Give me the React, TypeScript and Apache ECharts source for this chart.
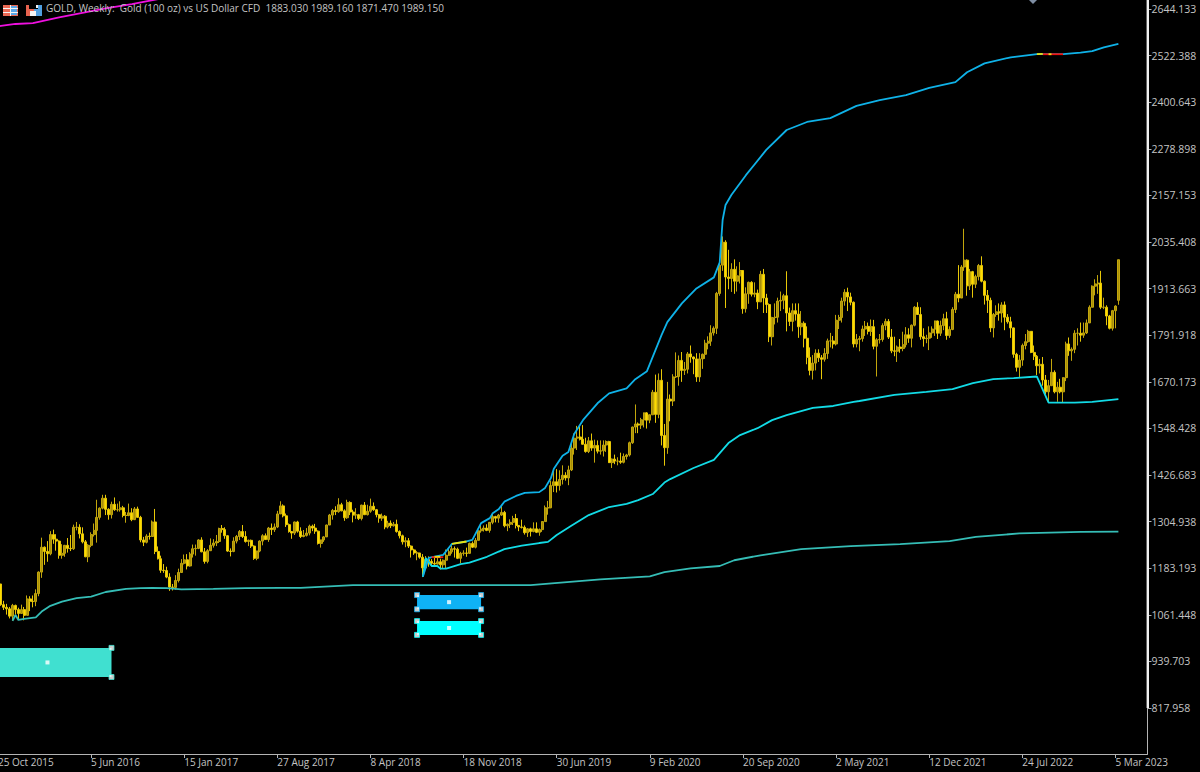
import React, { useEffect, useRef } from 'react';
import * as echarts from 'echarts';

const FONT = '"Open Sans", sans-serif';
const HEADER = 'GOLD, Weekly:  Gold (100 oz) vs US Dollar CFD  1883.030 1989.160 1871.470 1989.150';
const TEXT_COLOR = '#c4c4c4';

// the first label hangs off the left edge, so the canvas starts a bit before the page
const BLEED = 10;

// first week on the chart, one bar per week from there
const FIRST_WEEK = Date.UTC(2015, 9, 25);
const WEEK_COUNT = 396;
const MONTHS = ['Jan', 'Feb', 'Mar', 'Apr', 'May', 'Jun', 'Jul', 'Aug', 'Sep', 'Oct', 'Nov', 'Dec'];

const weeks: string[] = [];
for (let i = 0; i < WEEK_COUNT; i++) {
  const d = new Date(FIRST_WEEK + i * 7 * 86400000);
  weeks.push(`${d.getUTCDate()} ${MONTHS[d.getUTCMonth()]} ${d.getUTCFullYear()}`);
}

const priceTicks = [
  817.958, 939.703, 1061.448, 1183.193, 1304.938, 1426.683, 1548.428, 1670.173,
  1791.918, 1913.663, 2035.408, 2157.153, 2278.898, 2400.643, 2522.388, 2644.133,
];

const opens = [
  1163,1142,1088,1081,1077,1058,1086,1075,1065,1075,
  1060,1103,1097,1096,1117,1173,1238,1227,1221,1271,1259,1254,1217,1222,1243,1235,1234,1290,1290,1273,1252,1213,1243,1271,1282,1316,1340,1366,1337,1323,1350,1336,1336,1341,1321,1321,1328,1310,1338,1316,1257,1251,1267,1266,1304,1227,1208,1178,1177,1160,1134,1133,
  1151,1172,1196,1205,1189,1220,1234,1235,1257,1226,1201,1229,1243,1249,1253,1287,1284,1268,1228,1227,1254,1266,1279,1266,1253,1256,1241,1209,1228,1254,1268,1258,1288,1284,1291,1325,1346,1320,1297,1279,1275,1304,1280,1266,1269,1275,1293,1288,1280,1248,1257,1265,
  1296,1322,1334,1331,1349,1333,1315,1355,1330,1322,1323,1313,1348,1323,1332,1345,1336,1323,1314,1319,1291,1301,1294,1298,1279,1268,1252,1255,1241,1231,1223,1223,1212,1184,1206,1201,1196,1194,1200,1192,1204,1217,1226,1234,1233,1209,1222,1223,1222,1248,1238,1256,1281,
  1285,1288,1282,1303,1318,1314,1322,1329,1294,1298,1303,1313,1295,1291,1290,1276,1286,1279,1286,1277,1284,1305,1341,1341,1399,1409,1399,1415,1426,1419,1440,1497,1523,1526,1520,1507,1488,1516,1497,1504,1489,1490,1505,1514,1459,1468,1463,1463,1460,1475,1479,1511,
  1552,1560,1557,1571,1589,1570,1584,1643,1585,1674,1530,1498,1625,1620,1683,1684,1726,1700,1703,1743,1735,1730,1683,1730,1742,1771,1776,1798,1810,1901,1975,2035,1944,1940,1964,1933,1947,1961,1861,1900,1930,1899,1902,1879,1951,1889,1872,1788,1838,1839,1881,1883,
  1895,1850,1828,1856,1847,1814,1823,1784,1734,1700,1719,1745,1733,1729,1744,1777,1777,1769,1831,1838,1881,1904,1892,1878,1769,1781,1783,1808,1815,1802,1814,1763,1780,1781,1817,1828,1787,1751,1750,1761,1757,1767,1793,1784,1818,1865,1846,1788,1783,1784,1798,1808,
  1829,1797,1817,1835,1791,1807,1859,1899,1889,1970,1988,1921,1958,1925,1945,1974,1933,1896,1883,1811,1846,1853,1850,1871,1839,1827,1811,1742,1708,1727,1765,1775,1802,1747,1737,1712,1716,1675,1644,1660,1695,1644,1656,1644,1681,1769,1751,1755,1797,1797,1792,1798,
  1824,1865,1920,1926,1928,1865,1865,1842,1810,1856,1883.03,
];

const closes = [
  1142,1088,1081,1077,1058,1086,1075,1065,1075,1060,
  1103,1097,1096,1117,1173,1238,1227,1221,1271,1259,1254,1217,1222,1243,1235,1234,1290,1290,1273,1252,1213,1243,1271,1282,1316,1340,1366,1337,1323,1350,1336,1336,1341,1321,1321,1328,1310,1338,1316,1257,1251,1267,1266,1304,1227,1208,1178,1177,1160,1134,1133,1151,
  1172,1196,1205,1189,1220,1234,1235,1257,1226,1201,1229,1243,1249,1253,1287,1284,1268,1228,1227,1254,1266,1279,1266,1253,1256,1241,1209,1228,1254,1268,1258,1288,1284,1291,1325,1346,1320,1297,1279,1275,1304,1280,1266,1269,1275,1293,1288,1280,1248,1257,1265,1296,
  1322,1334,1331,1349,1333,1315,1355,1330,1322,1323,1313,1348,1323,1332,1345,1336,1323,1314,1319,1291,1301,1294,1298,1279,1268,1252,1255,1241,1231,1223,1223,1212,1184,1206,1201,1196,1194,1200,1192,1204,1217,1226,1234,1233,1209,1222,1223,1222,1248,1238,1256,1281,1285,
  1288,1282,1303,1318,1314,1322,1329,1294,1298,1303,1313,1295,1291,1290,1276,1286,1279,1286,1277,1284,1305,1341,1341,1399,1409,1399,1415,1426,1419,1440,1497,1523,1526,1520,1507,1488,1516,1497,1504,1489,1490,1505,1514,1459,1468,1463,1463,1460,1475,1479,1511,1552,
  1560,1557,1571,1589,1570,1584,1643,1585,1674,1530,1498,1625,1620,1683,1684,1726,1700,1703,1743,1735,1730,1683,1730,1742,1771,1776,1798,1810,1901,1975,2035,1944,1940,1964,1933,1947,1961,1861,1900,1930,1899,1902,1879,1951,1889,1872,1788,1838,1839,1881,1883,1895,
  1850,1828,1856,1847,1814,1823,1784,1734,1700,1719,1745,1733,1729,1744,1777,1777,1769,1831,1838,1881,1904,1892,1878,1769,1781,1783,1808,1815,1802,1814,1763,1780,1781,1817,1828,1787,1751,1750,1761,1757,1767,1793,1784,1818,1865,1846,1788,1783,1784,1798,1808,1829,
  1797,1817,1835,1791,1807,1859,1899,1889,1970,1988,1921,1958,1925,1945,1974,1933,1896,1883,1811,1846,1853,1850,1871,1839,1827,1811,1742,1708,1727,1765,1775,1802,1747,1737,1712,1716,1675,1644,1660,1695,1644,1656,1644,1681,1769,1751,1755,1797,1797,1792,1798,1824,
  1865,1920,1926,1928,1865,1865,1842,1810,1856,1868,1989.15,
];

const lows = [
  1139,1085,1074,1062,1052,1046,1062,1050,1064,1047,
  1060,1071,1081,1084,1110,1158,1192,1200,1217,1247,1229,1208,1208,1213,1224,1228,1231,1282,1261,1248,1212,1199,1238,1266,1250,1310,1337,1322,1310,1313,1333,1331,1331,1316,1302,1319,1306,1309,1315,1251,1241,1248,1258,1266,1220,1206,1171,1171,1157,1124,1125,1127,
  1146,1171,1193,1180,1187,1211,1216,1233,1225,1195,1196,1228,1237,1241,1249,1276,1260,1226,1214,1225,1248,1257,1262,1250,1241,1236,1205,1204,1225,1243,1257,1252,1270,1278,1288,1325,1316,1291,1276,1260,1270,1276,1262,1264,1266,1269,1280,1273,1245,1237,1252,1265,
  1296,1310,1322,1328,1332,1307,1312,1322,1303,1312,1309,1308,1322,1321,1328,1333,1316,1302,1307,1285,1287,1288,1292,1276,1261,1245,1238,1236,1211,1218,1204,1208,1160,1182,1187,1190,1187,1193,1180,1183,1182,1215,1221,1211,1207,1196,1216,1213,1221,1236,1235,1256,1276,
  1279,1280,1276,1298,1303,1302,1320,1290,1280,1288,1296,1287,1280,1287,1271,1265,1266,1277,1275,1268,1278,1305,1323,1340,1382,1381,1386,1402,1412,1400,1437,1480,1492,1517,1506,1485,1484,1490,1459,1483,1480,1475,1487,1458,1445,1455,1452,1456,1457,1467,1475,1508,
  1536,1536,1547,1551,1548,1562,1584,1563,1575,1504,1451,1482,1567,1607,1680,1660,1670,1688,1692,1720,1690,1670,1670,1704,1730,1755,1764,1791,1795,1895,1960,1863,1912,1905,1900,1906,1927,1848,1851,1874,1893,1891,1860,1879,1850,1850,1774,1765,1820,1825,1855,1860,
  1802,1816,1802,1830,1785,1792,1760,1716,1687,1676,1700,1722,1677,1723,1730,1760,1757,1765,1808,1825,1869,1855,1870,1760,1760,1750,1775,1790,1794,1790,1755,1684,1770,1775,1805,1782,1745,1737,1722,1746,1750,1760,1772,1760,1815,1845,1780,1762,1771,1753,1785,1790,
  1782,1790,1805,1780,1785,1805,1850,1878,1890,1960,1895,1910,1890,1915,1935,1930,1872,1850,1800,1786,1840,1830,1825,1805,1822,1785,1733,1697,1680,1712,1755,1772,1745,1727,1688,1692,1660,1638,1615,1660,1640,1618,1640,1615,1672,1738,1725,1745,1765,1775,1785,1795,
  1824,1867,1896,1900,1860,1860,1818,1807,1804,1810,1871.47,
];

const highs = [
  1180,1142,1098,1090,1082,1090,1088,1080,1088,1082,
  1112,1110,1112,1128,1175,1263,1240,1254,1280,1284,1272,1256,1246,1244,1262,1270,1297,1304,1298,1290,1257,1246,1277,1300,1362,1342,1375,1375,1340,1357,1368,1352,1358,1346,1330,1352,1340,1343,1344,1320,1265,1272,1276,1308,1338,1240,1216,1194,1187,1170,1142,1165,
  1182,1207,1219,1220,1225,1245,1245,1259,1264,1236,1233,1261,1259,1270,1289,1296,1290,1270,1235,1264,1270,1283,1296,1280,1258,1258,1243,1229,1256,1272,1274,1291,1300,1300,1333,1358,1350,1326,1300,1280,1305,1307,1290,1283,1288,1297,1297,1299,1282,1258,1267,1297,
  1325,1338,1345,1366,1354,1337,1362,1358,1336,1340,1325,1349,1356,1349,1365,1355,1338,1325,1326,1322,1307,1308,1304,1310,1282,1271,1264,1262,1243,1234,1228,1222,1220,1215,1214,1207,1213,1212,1208,1206,1232,1233,1243,1240,1237,1226,1230,1237,1250,1253,1262,1283,1298,
  1295,1298,1304,1326,1320,1325,1346,1333,1300,1311,1320,1325,1296,1310,1295,1288,1289,1303,1303,1287,1306,1347,1359,1412,1439,1442,1439,1452,1434,1451,1510,1535,1555,1554,1557,1524,1526,1535,1519,1517,1517,1517,1517,1516,1470,1480,1473,1485,1483,1482,1514,1553,
  1611,1564,1576,1590,1591,1585,1649,1689,1692,1703,1560,1670,1637,1690,1747,1739,1748,1722,1748,1765,1736,1745,1745,1744,1780,1789,1818,1815,1905,1984,2050,2040,2015,1980,1990,1972,1983,1962,1917,1932,1933,1930,1911,1960,1965,1900,1875,1840,1875,1890,1906,1900,
  1959,1864,1875,1875,1875,1855,1828,1815,1760,1740,1755,1755,1740,1758,1783,1798,1790,1845,1845,1890,1912,1916,1903,1880,1795,1790,1817,1829,1825,1833,1832,1784,1795,1823,1835,1834,1808,1788,1765,1782,1801,1813,1810,1820,1868,1878,1865,1810,1793,1815,1815,1830,
  1830,1830,1848,1853,1815,1865,1905,1975,1975,2070,1990,1965,1960,1950,1978,1998,1935,1910,1890,1850,1870,1875,1878,1880,1847,1840,1812,1746,1740,1770,1795,1806,1803,1765,1740,1730,1735,1688,1675,1730,1700,1670,1678,1682,1775,1786,1760,1805,1810,1825,1825,1833,
  1870,1922,1938,1949,1960,1890,1870,1845,1858,1870,1989.16,
];

// weekly index / price vertices of the lines
const outerBandWeeks = [146,148,153,156,161,163,166,169,170,172,174,178,181,186,188,190,191,194,196,198,201,206,210,216,219,223,228,230,235,240,246,248,249,250,252,257,264,271,278,286,295,303,312,320,329,333,339,348,357,366,372,376,380,385];
const outerBandPrices = [1161,1210,1218,1247,1253,1257,1301,1314,1327,1337,1357,1372,1380,1382,1393,1419,1443,1477,1487,1534,1570,1614,1640,1653,1677,1698,1792,1826,1875,1914,1943,1982,2093,2132,2158,2210,2276,2328,2349,2359,2391,2406,2419,2438,2453,2479,2502,2518,2526,2526,2530,2534,2544,2553];

const innerBandWeeks = [146,147,149,151,152,154,159,162,168,174,180,186,189,192,197,203,210,216,220,225,229,231,239,246,251,255,261,266,271,280,287,294,296,308,319,328,335,342,349,357,361,370,376,385];
const innerBandPrices = [1161,1210,1189,1189,1182,1182,1194,1198,1213,1233,1242,1249,1252,1270,1294,1322,1343,1351,1361,1377,1407,1416,1445,1466,1510,1531,1549,1570,1583,1602,1607,1618,1620,1636,1644,1651,1667,1677,1680,1684,1616,1616,1618,1625];

const baseLineWeeks = [5,6,7,9,13,15,18,22,27,32,37,44,49,53,58,63,74,85,97,104,122,158,183,207,224,229,238,248,253,262,276,293,310,327,336,351,372,385];
const baseLinePrices = [1046,1061,1048,1051,1055,1070,1085,1096,1105,1109,1121,1129,1131,1132,1131,1128,1129,1131,1132,1132,1139,1139,1139,1154,1162,1173,1183,1189,1204,1217,1233,1241,1246,1254,1265,1274,1278,1279];

const topLineWeeks = [0,1,6,12,21,37,46,55,62];
const topLinePrices = [2599,2600,2605,2607,2622,2646,2657,2670,2690];

// short stretches of the outer band that change colour
const redStretches = [
  { weeks: [149, 153], prices: [1212, 1212] },
  { weeks: [359, 366], prices: [2526, 2526] },
];
const yellowStretches = [
  { weeks: [150, 152], prices: [1213, 1213] },
  { weeks: [156, 161], prices: [1247, 1253] },
  { weeks: [357, 359], prices: [2526, 2527] },
  { weeks: [361, 362], prices: [2526, 2526] },
];

// chart objects: colour boxes with their selection points
const boxColors = ['#40e0d0', '#0fb2f5', '#00ffff'];
const boxFrom = [0, 144, 144];
const boxTo = [39, 166, 166];
const boxMiddle = [17, 155, 155];
const boxTop = [975, 1113, 1045];
const boxBottom = [899, 1076, 1009];

const zip = (xs: number[], ys: number[]) => xs.map((x, i) => [x, ys[i]]);

const thinLine = (data: number[][], color: string, z = 3) => ({
  type: 'line',
  data,
  showSymbol: false,
  symbol: 'none',
  z,
  silent: true,
  lineStyle: { color, width: 1.8 },
});

const App: React.FC = () => {
  const chartRef = useRef<HTMLDivElement>(null);

  useEffect(() => {
    if (!chartRef.current) return;
    const chart = echarts.init(chartRef.current, undefined, { renderer: 'svg' });

    const boxSeries = boxColors.map((color, b) => ({
      type: 'scatter',
      symbol: 'rect',
      symbolSize: 5,
      z: 6,
      silent: true,
      itemStyle: { color: '#ffffff', borderColor: color, borderWidth: 1 },
      data: [
        [boxTo[b], boxTop[b]],
        [boxTo[b], boxBottom[b]],
        ...(boxFrom[b] > 0 ? [[boxFrom[b], boxTop[b]], [boxFrom[b], boxBottom[b]]] : []),
        { value: [boxMiddle[b], (boxTop[b] + boxBottom[b]) / 2], symbolSize: 4, itemStyle: { borderWidth: 0 } },
      ],
      markArea: {
        silent: true,
        itemStyle: { color, opacity: 1 },
        data: [[
          { xAxis: boxFrom[b], yAxis: boxTop[b] },
          { xAxis: boxTo[b], yAxis: boxBottom[b] },
        ]],
      },
    }));

    const option: any = {
      animation: false,
      backgroundColor: '#000000',
      textStyle: { fontFamily: FONT },
      grid: { left: BLEED - 2, right: 52.5, top: 0, bottom: 18 },
      xAxis: {
        type: 'category',
        data: weeks,
        boundaryGap: false,
        axisLine: { lineStyle: { color: '#b4b4b4', width: 1 } },
        axisTick: { alignWithLabel: true, interval: 31, length: 4, lineStyle: { color: '#b4b4b4' } },
        axisLabel: {
          interval: 31,
          color: TEXT_COLOR,
          fontFamily: FONT,
          fontSize: 10,
          align: 'left',
          margin: 3,
          showMinLabel: true,
          hideOverlap: false,
        },
        splitLine: { show: false },
      },
      yAxis: {
        type: 'value',
        position: 'right',
        min: 697.8,
        max: 2667.65,
        axisLine: { show: true, lineStyle: { color: '#b4b4b4', width: 1 } },
        axisTick: { show: true, length: 4, lineStyle: { color: '#b4b4b4' }, customValues: priceTicks },
        axisLabel: {
          color: TEXT_COLOR,
          fontFamily: FONT,
          fontSize: 10.5,
          margin: 4,
          customValues: priceTicks,
          formatter: (v: number) => v.toFixed(3),
        },
        splitLine: { show: false },
      },
      series: [
        {
          type: 'candlestick',
          barWidth: 2.5,
          z: 2,
          silent: true,
          data: opens.map((o, i) => [o, closes[i], lows[i], highs[i]]),
          itemStyle: {
            color: '#a88f0a',
            color0: '#ffdc00',
            borderColor: '#c2a60c',
            borderColor0: '#e8c808',
            borderWidth: 1,
          },
        },
        thinLine(zip(topLineWeeks, topLinePrices), '#f010e0'),
        thinLine(zip(baseLineWeeks, baseLinePrices), '#35bdb6'),
        thinLine(zip(innerBandWeeks, innerBandPrices), '#12dbe6'),
        thinLine(zip(outerBandWeeks, outerBandPrices), '#0fb2e8'),
        ...redStretches.map((s) => thinLine(zip(s.weeks, s.prices), '#f01010', 4)),
        ...yellowStretches.map((s) => thinLine(zip(s.weeks, s.prices), '#e8e010', 5)),
        ...boxSeries,
      ],
      graphic: [
        {
          type: 'group',
          x: BLEED,
          y: 0,
          children: [
            { type: 'text', x: 46, y: 3, z: 20, style: { text: HEADER, fill: TEXT_COLOR, font: `10px ${FONT}` } },
            // window icons in the header
            { type: 'rect', z: 20, shape: { x: 3, y: 5, width: 15, height: 11 }, style: { fill: '#ea6a55' } },
            { type: 'rect', z: 21, shape: { x: 11, y: 6, width: 6, height: 9 }, style: { fill: '#5aa8e8' } },
            { type: 'rect', z: 22, shape: { x: 3, y: 8, width: 15, height: 1 }, style: { fill: '#f4f4f4' } },
            { type: 'rect', z: 22, shape: { x: 3, y: 12, width: 15, height: 1 }, style: { fill: '#f4f4f4' } },
            { type: 'rect', z: 22, shape: { x: 10, y: 5, width: 1, height: 11 }, style: { fill: '#f4f4f4' } },
            { type: 'rect', z: 20, shape: { x: 26, y: 5, width: 8, height: 11 }, style: { fill: '#e8634f' } },
            { type: 'rect', z: 20, shape: { x: 34, y: 5, width: 8, height: 11 }, style: { fill: '#4f9fe0' } },
            { type: 'rect', z: 21, shape: { x: 29, y: 5, width: 9, height: 4 }, style: { fill: '#000000' } },
            { type: 'rect', z: 22, shape: { x: 36, y: 5, width: 2, height: 3 }, style: { fill: '#f0f0f0' } },
            { type: 'rect', z: 22, shape: { x: 30, y: 11, width: 6, height: 5 }, style: { fill: '#f4f4f4' } },
            // object marker cut by the top edge
            { type: 'polygon', z: 20, shape: { points: [[1029, 0], [1037, 0], [1033, 4]] }, style: { fill: '#7f8ea3' } },
            // heavier price scale edge down to the lowest tick
            { type: 'line', z: 20, shape: { x1: 1147.8, y1: 0, x2: 1147.8, y2: 708 }, style: { stroke: '#f0f0f0', lineWidth: 2.4 } },
          ],
        },
      ],
    };

    chart.setOption(option);

    return () => {
      chart.dispose();
    };
  }, []);

  return (
    <div
      ref={chartRef}
      style={{ position: 'fixed', left: -BLEED, top: 0, width: 1200 + BLEED, height: 772, background: '#000' }}
    />
  );
};

export default App;
